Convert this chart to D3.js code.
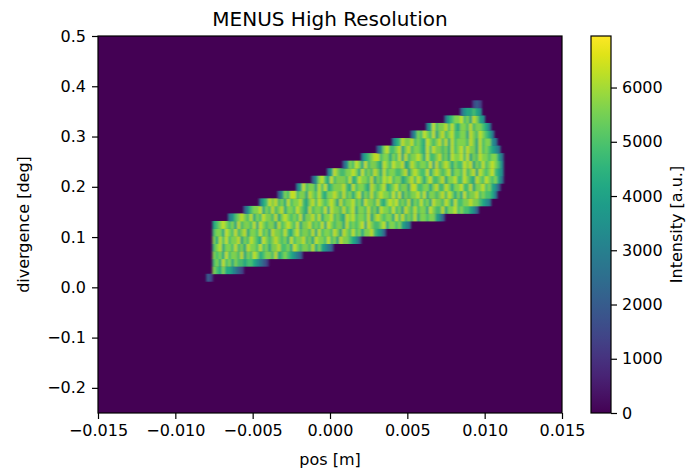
<!DOCTYPE html>
<html>
<head>
<meta charset="utf-8">
<script src="https://cdn.jsdelivr.net/npm/d3@7"></script>
<style>
  body { margin: 0; background: #fff; }
  text { font-family: "DejaVu Sans", sans-serif; fill: #000; }
</style>
</head>
<body>
<script>
// axis ranges and ticks
var posDomain = [-0.015, 0.015];
var divDomain = [-0.25, 0.5];
var intensityMax = 6950;
var xTicks = [-0.015, -0.010, -0.005, 0.000, 0.005, 0.010, 0.015];
var yTicks = [-0.2, -0.1, 0.0, 0.1, 0.2, 0.3, 0.4, 0.5];
var cTicks = [0, 1000, 2000, 3000, 4000, 5000, 6000];

// histogram bins: pos bins of 0.0002 m from -0.008, divergence bins of 0.015 deg from 0.012
var posStart = -0.008, posStep = 0.0002;
var divStart = 0.012, divStep = 0.015;
var levelUnit = 700; // one digit = 700 a.u.

// first pos bin of each divergence row (bottom row first)
var rowFirstBin = [0, 2, 2, 2, 2, 2, 2, 2, 7, 12, 17, 23, 29, 34, 39, 44, 50, 55, 60, 66, 71, 77, 82, 86];

// intensity per bin (digit x 700), bottom row first
var rowLevels = [
  "32",
  "87686 65432",
  "78697 86877 67765 432",
  "87869 78879 68798 67887 96787 6543",
  "78968 87978 69887 97868 89778 69878 87968 6543",
  "86979 78896 87987 69878 98786 97889 78698 87978 69887 653",
  "78869 87978 96887 97869 88797 68978 87969 78879 86987 97868 89765 3",
  "67898 78697 88796 98788 69789 87968 89787 96987 88697 87896 98778 96887 8654",
  "45789 87968 79887 96898 78796 88979 68897 87698 97887 96898 78869 79787 96887 88653",
  "35788 96879 78968 87987 69788 79698 87978 96887 97869 88797 86987 97886 98779 68897 87765 3",
  "46798 97869 78897 68979 87898 69788 97869 88797 68989 78796 87978 69887 98697 78898 87654",
  "35879 97886 98797 68898 79786 89687 97898 87979 68788 97968 87897 98686 97889 78776 4",
  "46978 86979 67888 97697 88769 87896 78978 86997 78868 97798 68897 79688 97865 3",
  "35897 69788 87967 98879 68798 97886 78979 86897 78968 89779 87698 79878 64",
  "46987 78898 69787 98697 88778 96898 77968 98789 68879 78969 87897 65",
  "35879 86978 87698 79889 67987 88796 97898 68779 89687 97898 75",
  "46789 97886 87969 78898 69778 97869 88979 68798 87886 4",
  "35897 78968 97887 69798 87869 78979 88697 87654",
  "46798 89787 69878 97969 78887 98697 8854",
  "35879 87968 97897 78869 87987 64",
  "46978 89797 68879 78876 4",
  "46788 97869 865",
  "35667 65",
  "232"
];

var W = 689, H = 473;
var plot = {left: 98, top: 36, width: 464, height: 377};
var cbar = {left: 591, width: 20};

var x = d3.scaleLinear().domain(posDomain).range([plot.left, plot.left + plot.width]);
var y = d3.scaleLinear().domain(divDomain).range([plot.top + plot.height, plot.top]);
var color = d3.scaleSequential(d3.interpolateViridis).domain([0, intensityMax]);
var cy = d3.scaleLinear().domain([0, intensityMax]).range([plot.top + plot.height, plot.top]);

var svg = d3.select("body").append("svg")
    .attr("width", W)
    .attr("height", H);

var defs = svg.append("defs");
defs.append("clipPath").attr("id", "plotclip")
  .append("rect")
    .attr("x", plot.left).attr("y", plot.top)
    .attr("width", plot.width).attr("height", plot.height);
defs.append("filter").attr("id", "soft")
    .attr("x", "-5%").attr("y", "-5%").attr("width", "110%").attr("height", "110%")
  .append("feGaussianBlur").attr("stdDeviation", "1.1 0.5");

// empty bins (zero intensity)
svg.append("rect")
    .attr("x", x(posDomain[0]))
    .attr("y", y(divDomain[1]))
    .attr("width", x(posDomain[1]) - x(posDomain[0]))
    .attr("height", y(divDomain[0]) - y(divDomain[1]))
    .style("fill", color(0));

// flatten bins
var cells = [];
rowLevels.forEach(function(s, r) {
  s.replace(/ /g, "").split("").forEach(function(ch, i) {
    var bin = rowFirstBin[r] + i;
    cells.push({
      pos: posStart + bin * posStep,
      div: divStart + r * divStep,
      value: +ch * levelUnit
    });
  });
});

var heat = svg.append("g")
    .attr("clip-path", "url(#plotclip)")
  .append("g")
    .attr("filter", "url(#soft)");

heat.selectAll(".cell")
  .data(cells)
  .enter().append("rect")
    .attr("class", "cell")
    .attr("x", function(d) { return x(d.pos); })
    .attr("y", function(d) { return y(d.div + divStep); })
    .attr("width", function(d) { return x(d.pos + posStep) - x(d.pos) + 0.4; })
    .attr("height", function(d) { return y(d.div) - y(d.div + divStep) + 0.4; })
    .style("fill", function(d) { return color(d.value); });

// axes
var fmt3 = function(d) { return d3.format(".3f")(d).replace("-", "\u2212"); };
var fmt1 = function(d) { return d3.format(".1f")(d).replace("-", "\u2212"); };

var xAxis = svg.append("g")
    .attr("transform", "translate(0," + (plot.top + plot.height) + ")")
    .call(d3.axisBottom(x).tickValues(xTicks).tickFormat(fmt3).tickSize(6).tickPadding(6));
var yAxis = svg.append("g")
    .attr("transform", "translate(" + plot.left + ",0)")
    .call(d3.axisLeft(y).tickValues(yTicks).tickFormat(fmt1).tickSize(6).tickPadding(6));

[xAxis, yAxis].forEach(function(a) {
  a.select(".domain").remove();
  a.selectAll("text").style("font-size", "16px").style("fill", "#000");
  a.selectAll("line").style("stroke", "#000").style("stroke-width", 1.2);
});

// frame
svg.append("rect")
    .attr("x", plot.left).attr("y", plot.top)
    .attr("width", plot.width).attr("height", plot.height)
    .style("fill", "none").style("stroke", "#000").style("stroke-width", 1.2);

// colorbar
var grad = defs.append("linearGradient").attr("id", "cgrad")
    .attr("x1", 0).attr("y1", 1).attr("x2", 0).attr("y2", 0);
d3.range(0, 1.0001, 0.05).forEach(function(t) {
  grad.append("stop").attr("offset", t).attr("stop-color", color(t * intensityMax));
});
svg.append("rect")
    .attr("x", cbar.left).attr("y", cy(intensityMax))
    .attr("width", cbar.width).attr("height", cy(0) - cy(intensityMax))
    .style("fill", "url(#cgrad)")
    .style("stroke", "#000").style("stroke-width", 1.2);

var cAxis = svg.append("g")
    .attr("transform", "translate(" + (cbar.left + cbar.width) + ",0)")
    .call(d3.axisRight(cy).tickValues(cTicks).tickFormat(d3.format("d")).tickSize(6).tickPadding(5));
cAxis.select(".domain").remove();
cAxis.selectAll("text").style("font-size", "16px").style("fill", "#000");
cAxis.selectAll("line").style("stroke", "#000").style("stroke-width", 1.2);

// labels
svg.append("text")
    .attr("x", plot.left + plot.width / 2).attr("y", 26)
    .attr("text-anchor", "middle")
    .style("font-size", "20px")
    .text("MENUS High Resolution");
svg.append("text")
    .attr("x", plot.left + plot.width / 2).attr("y", 465)
    .attr("text-anchor", "middle")
    .style("font-size", "16px")
    .text("pos [m]");
svg.append("text")
    .attr("transform", "translate(29," + (plot.top + plot.height / 2) + ") rotate(-90)")
    .attr("text-anchor", "middle")
    .style("font-size", "16px")
    .text("divergence [deg]");
svg.append("text")
    .attr("transform", "translate(682," + (plot.top + plot.height / 2) + ") rotate(-90)")
    .attr("text-anchor", "middle")
    .style("font-size", "16px")
    .text("Intensity [a.u.]");
</script>
</body>
</html>
